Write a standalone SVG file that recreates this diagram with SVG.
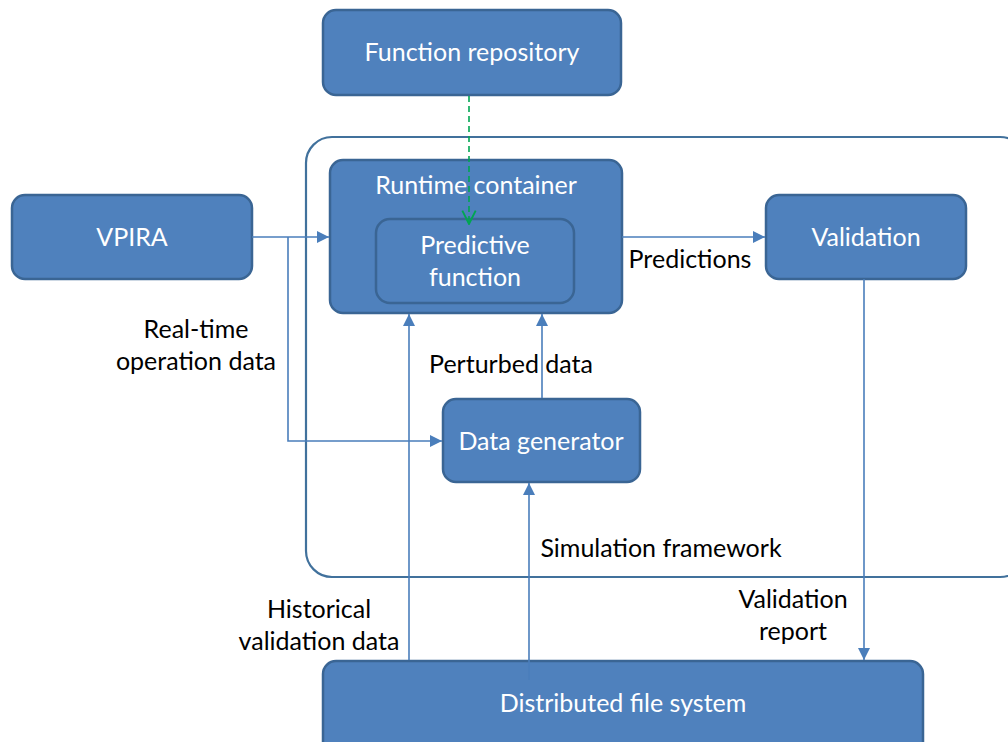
<svg xmlns="http://www.w3.org/2000/svg" width="1008" height="742" viewBox="0 0 1008 742">
  <defs>
    <marker id="tri" viewBox="0 0 10 10" refX="10" refY="5" markerWidth="12" markerHeight="12" markerUnits="userSpaceOnUse" orient="auto">
      <path d="M0,0 L10,5 L0,10 z" fill="#4a7ebb"/>
    </marker>
    <marker id="vee" viewBox="0 0 12 12" refX="11" refY="6" markerWidth="16" markerHeight="16" markerUnits="userSpaceOnUse" orient="auto">
      <path d="M1,1 L11,6 L1,11" fill="none" stroke="#00a651" stroke-width="1.4"/>
    </marker>
    <style>
      .box { fill: #4f81bd; stroke: #3a6594; stroke-width: 2.5; }
      .frame { fill: none; stroke: #41719c; stroke-width: 2.2; }
      .wire { fill: none; stroke: #4a7ebb; stroke-width: 1.6; }
      .dash { fill: none; stroke: #00a651; stroke-width: 1.6; stroke-dasharray: 6 4; }
      .lbl { font-family: Lato, "Open Sans", sans-serif; font-size: 25px; text-anchor: middle; }
      .w { fill: #ffffff; }
      .k { fill: #000000; }
    </style>
  </defs>

  <!-- outer frame of the simulation framework -->
  <g id="simulation-framework">
    <rect class="frame" x="306" y="137" width="720" height="440" rx="26"/>
    <text class="lbl k" x="661" y="557">Simulation framework</text>
  </g>

  <g id="function-repository">
    <rect class="box" x="323" y="10" width="298" height="85" rx="13"/>
    <text class="lbl w" x="472" y="61">Function repository</text>
  </g>

  <g id="runtime-container">
    <rect class="box" x="330" y="160" width="292" height="153" rx="13"/>
    <text class="lbl w" x="476" y="194">Runtime container</text>
  </g>

  <g id="predictive-function">
    <rect class="box" x="376" y="219" width="198" height="84" rx="14"/>
    <text class="lbl w" x="475" y="254">Predictive</text>
    <text class="lbl w" x="475" y="286">function</text>
  </g>

  <g id="vpira">
    <rect class="box" x="12" y="195" width="240" height="84" rx="13"/>
    <text class="lbl w" x="132" y="246">VPIRA</text>
  </g>

  <g id="validation">
    <rect class="box" x="766" y="195" width="200" height="84" rx="13"/>
    <text class="lbl w" x="866" y="246">Validation</text>
  </g>

  <g id="data-generator">
    <rect class="box" x="443" y="399" width="197" height="83" rx="13"/>
    <text class="lbl w" x="541" y="450">Data generator</text>
  </g>

  <g id="distributed-file-system">
    <rect class="box" x="323" y="661" width="600" height="100" rx="13"/>
    <text class="lbl w" x="623" y="712">Distributed file system</text>
  </g>

  <g id="connectors">
    <!-- repository to predictive function -->
    <line class="dash" x1="469" y1="96" x2="469" y2="224" marker-end="url(#vee)"/>
    <!-- real-time operation data -->
    <line class="wire" x1="252" y1="237" x2="329" y2="237" marker-end="url(#tri)"/>
    <polyline class="wire" points="288,237 288,441 442,441" marker-end="url(#tri)"/>
    <!-- predictions -->
    <line class="wire" x1="622" y1="237" x2="765" y2="237" marker-end="url(#tri)"/>
    <!-- perturbed data -->
    <line class="wire" x1="542" y1="398" x2="542" y2="314" marker-end="url(#tri)"/>
    <!-- historical validation data -->
    <line class="wire" x1="409" y1="660" x2="409" y2="314" marker-end="url(#tri)"/>
    <!-- file system to data generator -->
    <line class="wire" x1="529" y1="680" x2="529" y2="483" marker-end="url(#tri)"/>
    <!-- validation report -->
    <line class="wire" x1="864" y1="279" x2="864" y2="660" marker-end="url(#tri)"/>
  </g>

  <g id="labels">
    <text class="lbl k" x="196" y="338">Real-time</text>
    <text class="lbl k" x="196" y="370">operation data</text>
    <text class="lbl k" x="511" y="373">Perturbed data</text>
    <text class="lbl k" x="690" y="268">Predictions</text>
    <text class="lbl k" x="319" y="618">Historical</text>
    <text class="lbl k" x="319" y="650">validation data</text>
    <text class="lbl k" x="793" y="608">Validation</text>
    <text class="lbl k" x="793" y="640">report</text>
  </g>
</svg>
